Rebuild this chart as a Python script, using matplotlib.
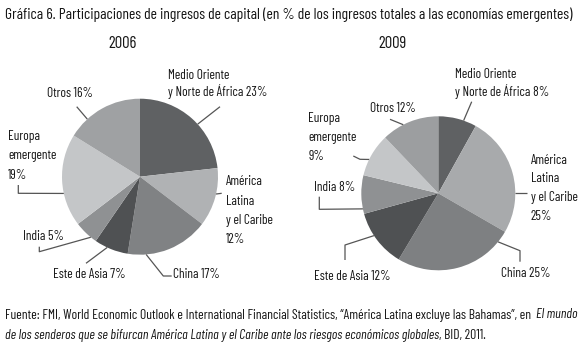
import numpy as np
import matplotlib
matplotlib.use("Agg")
import matplotlib.pyplot as plt
from matplotlib import font_manager as fm

W, H = 579, 349


def pick_font():
    # condensed face close to the original; fall back to DejaVu Sans condensed
    for fam in ["Barlow Condensed", "Archivo Narrow", "Asap Condensed"]:
        try:
            fm.findfont(fm.FontProperties(family=fam), fallback_to_default=False)
            return fam, 1.0
        except ValueError:
            pass
    return "DejaVu Sans", 0.68


FAM, K = pick_font()
plt.rcParams['font.family'] = [FAM, "DejaVu Sans"]
plt.rcParams['font.stretch'] = "condensed"

# datos
regiones = ["Medio Oriente\ny Norte de África", "América\nLatina\ny el Caribe",
            "China", "Este de Asia", "India", "Europa\nemergente", "Otros"]
separador = [" ", "\n", " ", " ", " ", "\n", " "]
v2006 = [23, 12, 17, 7, 5, 19, 16]
v2009 = [8, 25, 25, 12, 8, 9, 12]
colores_2006 = ["#5f6163", "#b0b2b4", "#808284", "#4f5153", "#8f9193", "#c4c6c8", "#9fa1a3"]
colores_2009 = ["#5f6163", "#a8aaac", "#7e8082", "#4f5153", "#8f9193", "#c4c6c8", "#9c9ea0"]

titulo = "Gráfica 6. Participaciones de ingresos de capital (en % de los ingresos totales a las economías emergentes)"
fuente_1 = "Fuente: FMI, World Economic Outlook e International Financial Statistics, “América Latina excluye las Bahamas”, en "
fuente_1_it = "El mundo"
fuente_2_it = "de los senderos que se bifurcan América Latina y el Caribe ante los riesgos económicos globales"
fuente_2 = ", BID, 2011."

# layout (pixels, y from top)
pies = {
    "2006": dict(vals=v2006, cols=colores_2006, c=(140, 176.7), r=78, year_x=122.7,
                 frac=[0.57, 0.44, 0.78, 0.62, 0.25, 0.36, 0.27],
                 leader=[[(220, 106.7)], [(221.7, 193.3)], [(163.3, 276), (171.7, 276)],
                         [(86, 263.3)], [(39.3, 251.7), (39.3, 246.7)],
                         [(18.3, 193.3), (18.3, 185)], [(76.7, 106.7)]],
                 lab=[(168, 75.7, 16), (226, 181.7, 19.4), (173.3, 275, 0), (53.3, 275, 0),
                      (22.7, 236, 0), (8.3, 136.7, 19.2), (46.7, 93.3, 0)]),
    "2009": dict(vals=v2009, cols=colores_2009, c=(438.3, 193.3), r=77, year_x=392.5,
                 frac=[0.66, 0.67, 0.10, 0.59, 0.13, 0.38, 0.38],
                 leader=[[(471.7, 101.7)], [(527.3, 193.3)], [(520, 250.7), (520, 261.7)],
                         [(345, 245), (345, 260)], [(319.3, 209.3), (319.3, 196.7)],
                         [(360, 159.3), (353.3, 156)], [(390, 119.3)]],
                 lab=[(455, 75, 16.7), (530.7, 160, 18.9), (500.7, 273.3, 0), (314, 276.7, 0),
                      (314, 187.7, 0), (308.3, 118.3, 19.2), (370, 108.3, 0)]),
}

fig = plt.figure(figsize=(W / 100, H / 100), dpi=100)
ax = fig.add_axes([0, 0, 1, 1])
TXT = "#141414"
LINE = "#555555"

for year, p in pies.items():
    cx, cy = p["c"]
    ax.pie(p["vals"], colors=p["cols"], startangle=90, counterclock=False,
           center=(cx, H - cy), radius=p["r"], wedgeprops=dict(linewidth=0))
    ax.text(p["year_x"], H - 43.3, year, ha="center", va="center", fontsize=12 * K, color=TXT)

    total = sum(p["vals"])
    cum = np.concatenate([[0], np.cumsum(p["vals"])]) / total
    for i, v in enumerate(p["vals"]):
        t1 = 90 - 360 * cum[i]
        t2 = 90 - 360 * cum[i + 1]
        th = np.radians(t1 + p["frac"][i] * (t2 - t1))
        pts = [(cx + p["r"] * np.cos(th), cy - p["r"] * np.sin(th))] + p["leader"][i]
        xs = [q[0] for q in pts]
        ys = [H - q[1] for q in pts]
        ax.plot(xs, ys, color=LINE, lw=0.9, solid_capstyle="butt")

        label = regiones[i] + separador[i] + f"{v}%"
        lx, ly, sp = p["lab"][i]
        for k, line in enumerate(label.split("\n")):
            ax.text(lx, H - (ly + k * sp), line, ha="left", va="center",
                    fontsize=9.6 * K, color=TXT)

ax.set_xlim(0, W)
ax.set_ylim(0, H)
ax.set_aspect("auto")
ax.axis("off")

ax.text(5, H - 15, titulo, ha="left", va="center", fontsize=11.2 * K, color=TXT)

# fuente, con partes en cursiva
FS = 9.8 * K
fig.canvas.draw()
r = fig.canvas.get_renderer()
ax.text(5, H - 315, fuente_1, ha="left", va="center", fontsize=FS, color=TXT)
ax.text(577, H - 315, fuente_1_it, ha="right", va="center", fontsize=FS,
        style="italic", color=TXT)
t_b = ax.text(5, H - 335, fuente_2_it, ha="left", va="center", fontsize=FS,
              style="italic", color=TXT)
bb = t_b.get_window_extent(renderer=r)
x_end = ax.transData.inverted().transform((bb.x1, bb.y0))[0]
ax.text(x_end, H - 335, fuente_2, ha="left", va="center", fontsize=FS, color=TXT)

fig.savefig("out.png", dpi=100, facecolor="white")
